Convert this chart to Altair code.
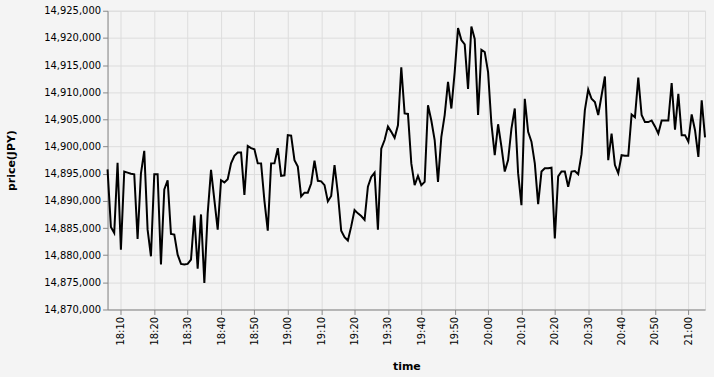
import altair as alt
import pandas as pd

start_time = "2021-01-01 18:06"
n_points = 180

price = [
    14895800, 14885200, 14884100, 14897000, 14881000, 14895400, 14895200, 14895000, 14894900, 14883000,
    14895000, 14899200, 14884700, 14879800, 14894900, 14894900, 14878300, 14892100, 14893800, 14883900,
    14883800, 14880100, 14878400, 14878300, 14878400, 14879200, 14887300, 14877500, 14887500, 14874900,
    14887700, 14895700, 14890200, 14884700, 14893800, 14893400, 14894000, 14896900, 14898300, 14898900,
    14898900, 14891100, 14900100, 14899700, 14899500, 14896900, 14896900, 14890000, 14884500, 14896900,
    14896900, 14899700, 14894600, 14894700, 14902100, 14902000, 14897500, 14896300, 14890800, 14891500,
    14891500, 14893200, 14897400, 14893700, 14893600, 14892900, 14889900, 14890900, 14896600, 14891400,
    14884500, 14883300, 14882700, 14885300, 14888300, 14887700, 14887200, 14886500, 14892600, 14894400,
    14895200, 14884700, 14899600, 14901200, 14903700, 14902700, 14901600, 14903900, 14914600, 14906100,
    14906000, 14896900, 14892900, 14894600, 14892900, 14893500, 14907600, 14904800, 14901200, 14893500,
    14901800, 14905800, 14911900, 14907000, 14913700, 14921800, 14919600, 14918800, 14910600, 14922100,
    14919800, 14905800, 14917800, 14917400, 14913700, 14904200, 14898400, 14904100, 14900000, 14895400,
    14897500, 14903300, 14907000, 14895100, 14889200, 14908800, 14902700, 14900900, 14896900, 14889400,
    14895400, 14896000, 14896000, 14896100, 14883100, 14894500, 14895400, 14895400, 14892600, 14895400,
    14895500, 14894900, 14898600, 14906700, 14910500, 14908800, 14908200, 14905800, 14909400, 14912900,
    14897500, 14902400, 14896600, 14895100, 14898400, 14898300, 14898300, 14905900, 14905400, 14912700,
    14905800, 14904500, 14904500, 14904800, 14903700, 14902400, 14904800, 14904800, 14904800, 14911700,
    14903100, 14909700, 14902100, 14902100, 14900900, 14905900, 14903000, 14898100, 14908500, 14901700,
]

tick_times = ["18:10", "18:20", "18:30", "18:40", "18:50", "19:00", "19:10", "19:20", "19:30",
              "19:40", "19:50", "20:00", "20:10", "20:20", "20:30", "20:40", "20:50", "21:00"]

times = pd.date_range(start_time, periods=n_points, freq="min").strftime("%Y-%m-%dT%H:%M:%S").tolist()
df = pd.DataFrame({"time": times, "price": price})

tick_values = [
    alt.DateTime(year=2021, month=1, date=1, hours=int(s[:2]), minutes=int(s[3:]))
    for s in tick_times
]

chart = (
    alt.Chart(df)
    .mark_line(color="black", strokeWidth=2)
    .encode(
        x=alt.X(
            "time:T",
            title="time",
            axis=alt.Axis(
                format="%H:%M",
                labelAngle=270,
                values=tick_values,
                titlePadding=15,
            ),
        ),
        y=alt.Y(
            "price:Q",
            title="price(JPY)",
            scale=alt.Scale(domain=[14870000, 14925000], zero=False),
            axis=alt.Axis(format=",d", titlePadding=27),
        ),
    )
    .properties(width=600, height=300, background="#f4f4f4", padding=5)
    .configure(font="DejaVu Sans")
    .configure_axis(labelFont="DejaVu Sans", titleFont="DejaVu Sans")
)

chart.save("out.html", embed_options={"renderer": "svg", "actions": False})
